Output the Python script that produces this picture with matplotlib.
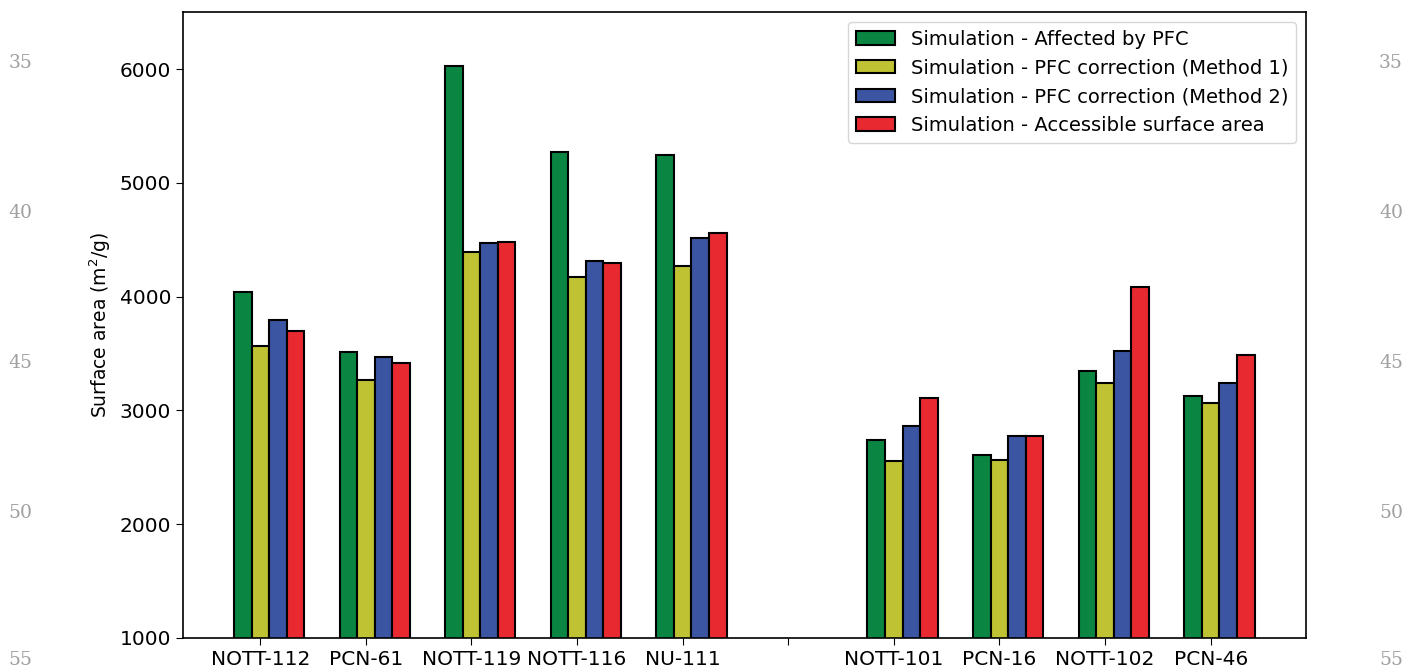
import numpy as np
import matplotlib
matplotlib.use('Agg')
import matplotlib.pyplot as plt


# ==============================================================
# DADOS
# ==============================================================

materiais = [
    'NOTT-112', 'PCN-61', 'NOTT-119', 'NOTT-116', 'NU-111', '',
    'NOTT-101', 'PCN-16', 'NOTT-102', 'PCN-46'
]

afetado_pfc = [4040, 3512, 6024, 5275, 5249, 0, 2737, 2611, 3347, 3124]
metodo_1 = [3564, 3265, 4395, 4169, 4272, 0, 2552, 2567, 3239, 3066]
metodo_2 = [3793, 3467, 4474, 4316, 4518, 0, 2866, 2772, 3518, 3242]
acessivel = [3694, 3418, 4477, 4295, 4559, 0, 3110, 2772, 4084, 3485]

series = [
    ('Simulation - Affected by PFC', afetado_pfc, '#0b8542'),
    ('Simulation - PFC correction (Method 1)', metodo_1, '#bfc233'),
    ('Simulation - PFC correction (Method 2)', metodo_2, '#3b55a3'),
    ('Simulation - Accessible surface area', acessivel, '#e8292f'),
]

numeros_linha = ['35', '40', '45', '50', '55']


# ==============================================================
# GRÁFICO BARRA
# ==============================================================

fig = plt.figure(figsize=(14.07, 6.70), dpi=100)
ax = fig.add_axes([0.130, 0.0478, 0.798, 0.934])

x = np.arange(len(materiais))
largura = 1 / 6

for k, (nome, valores, cor) in enumerate(series):
    # a lacuna (índice 5) fica vazia
    xs = [xi for xi, v in zip(x, valores) if v > 0]
    vs = [v for v in valores if v > 0]
    ax.bar(np.array(xs) + (k - 1) * largura, vs, largura,
           color=cor, edgecolor='black', linewidth=1.5, label=nome)

ax.set_ylim(1000, 6500)
ax.set_xlim(-0.733, 9.9)
ax.set_xticks(x)
ax.set_xticklabels(materiais, fontsize=14.5)
ax.set_yticks([1000, 2000, 3000, 4000, 5000, 6000])
ax.tick_params(axis='y', labelsize=14.5)
ax.tick_params(length=5)
ax.set_ylabel('Surface area (m$^2$/g)', fontsize=13.5, labelpad=5)

ax.legend(loc='upper right', fontsize=14)

for sp in ax.spines.values():
    sp.set_linewidth(1.2)

# números de linha da página
for i, n in enumerate(numeros_linha):
    y = 1 - min(63 + 150 * i, 660) / 670
    fig.text(0.0145, y, n, fontsize=13.5, color='#a0a0a0',
             family='DejaVu Serif', ha='center', va='center')
    fig.text(0.9886, y, n, fontsize=13.5, color='#a0a0a0',
             family='DejaVu Serif', ha='center', va='center')

fig.savefig('out.png', dpi=100)
